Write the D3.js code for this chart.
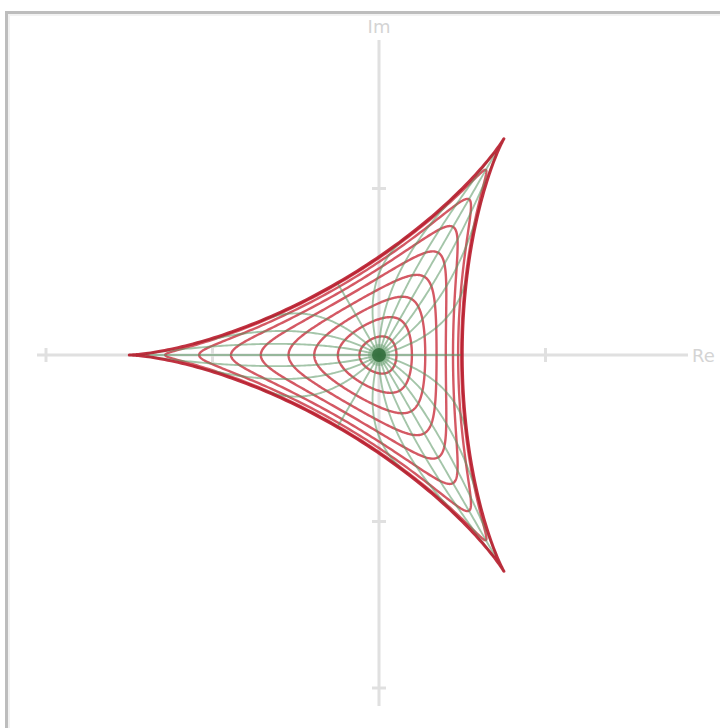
<!DOCTYPE html>
<html>
<head>
<meta charset="utf-8">
<script src="https://cdn.jsdelivr.net/npm/d3@7"></script>
<style>
  html, body { margin: 0; padding: 0; background: #fff; overflow: hidden; }
  svg { display: block; }
</style>
</head>
<body>
<svg id="chart" width="720" height="728"></svg>
<script>
// Grid in the unit disk: circles |z| = r and rays arg z = angle (degrees)
const radii = [1/9, 2/9, 3/9, 4/9, 5/9, 6/9, 7/9, 8/9, 1];
const rayAngles = [0, 15, 30, 45, 60, 75, 90, 105, 120, 135, 150, 165,
                   180, 195, 210, 225, 240, 255, 270, 285, 300, 315, 330, 345];
const xTicks = [-2, -1, 1];
const yTicks = [-2, -1, 1];
const axisLabels = { re: "Re", im: "Im" };

// Harmonic map w = z - conj(z)^2 / 2 (image of the unit disk is a deltoid)
function mapPoint(x, y) {
  return [x - (x * x - y * y) / 2, y + x * y];
}

const svg = d3.select("#chart");
const cx = 379, cy = 355, unit = 166.5;
const xScale = d3.scaleLinear().domain([-2, 2]).range([cx - 2 * unit, cx + 2 * unit]);
const yScale = d3.scaleLinear().domain([-2, 2]).range([cy + 2 * unit, cy - 2 * unit]);

// Frame
svg.append("rect")
  .attr("x", 6.5).attr("y", 12.5).attr("width", 900).attr("height", 900)
  .attr("fill", "none").attr("stroke", "#bdbdbd").attr("stroke-width", 3);
svg.append("rect")
  .attr("x", 9).attr("y", 15).attr("width", 900).attr("height", 900)
  .attr("fill", "none").attr("stroke", "#f2f2f2").attr("stroke-width", 2);

// Axes
const axisColor = "#e0e0e0";
const axes = svg.append("g").attr("stroke", axisColor).attr("stroke-width", 3);
axes.append("line").attr("x1", 37).attr("x2", 688).attr("y1", cy).attr("y2", cy);
axes.append("line").attr("x1", cx).attr("x2", cx).attr("y1", 40).attr("y2", 706);
axes.selectAll(".xt").data(xTicks).join("line")
  .attr("x1", d => xScale(d)).attr("x2", d => xScale(d))
  .attr("y1", cy - 7).attr("y2", cy + 7);
axes.selectAll(".yt").data(yTicks).join("line")
  .attr("x1", cx - 7).attr("x2", cx + 7)
  .attr("y1", d => yScale(d)).attr("y2", d => yScale(d));

svg.append("text").text(axisLabels.im)
  .attr("x", cx).attr("y", 33).attr("text-anchor", "middle")
  .attr("font-family", "DejaVu Sans, sans-serif").attr("font-size", 18)
  .attr("fill", "#d4d4d4");
svg.append("text").text(axisLabels.re)
  .attr("x", 692).attr("y", 362)
  .attr("font-family", "DejaVu Sans, sans-serif").attr("font-size", 18)
  .attr("fill", "#d4d4d4");

const line = d3.line().x(d => xScale(d[0])).y(d => yScale(d[1]));

function circleImage(r) {
  const pts = [];
  const n = 360;
  for (let i = 0; i <= n; i++) {
    const t = (i / n) * 2 * Math.PI;
    pts.push(mapPoint(r * Math.cos(t), r * Math.sin(t)));
  }
  return pts;
}
function rayImage(deg) {
  const pts = [];
  const a = deg * Math.PI / 180;
  const n = 120;
  for (let i = 0; i <= n; i++) {
    const rho = i / n;
    pts.push(mapPoint(rho * Math.cos(a), rho * Math.sin(a)));
  }
  return pts;
}

const plot = svg.append("g").attr("fill", "none").attr("stroke-linejoin", "round");

// Images of the inner circles
plot.selectAll(".circ").data(radii.filter(r => r < 1)).join("path")
  .attr("d", r => line(circleImage(r)))
  .attr("stroke", "#c92f3d").attr("stroke-opacity", 0.8).attr("stroke-width", 2.4);

// Images of the rays
plot.selectAll(".ray").data(rayAngles).join("path")
  .attr("d", a => line(rayImage(a)))
  .attr("stroke", "#5a9663").attr("stroke-opacity", 0.55).attr("stroke-width", 1.9);

// Boundary: image of the unit circle
plot.selectAll(".edge").data(radii.filter(r => r >= 1)).join("path")
  .attr("d", r => line(circleImage(r)))
  .attr("stroke", "#b81c2c").attr("stroke-opacity", 0.9).attr("stroke-width", 3);

// Dense spot where all rays meet at the origin
svg.append("circle").attr("cx", xScale(0)).attr("cy", yScale(0)).attr("r", 11)
  .attr("fill", "#5f9a68").attr("fill-opacity", 0.35);
svg.append("circle").attr("cx", xScale(0)).attr("cy", yScale(0)).attr("r", 7)
  .attr("fill", "#2f6b3a").attr("fill-opacity", 0.85);
</script>
</body>
</html>
